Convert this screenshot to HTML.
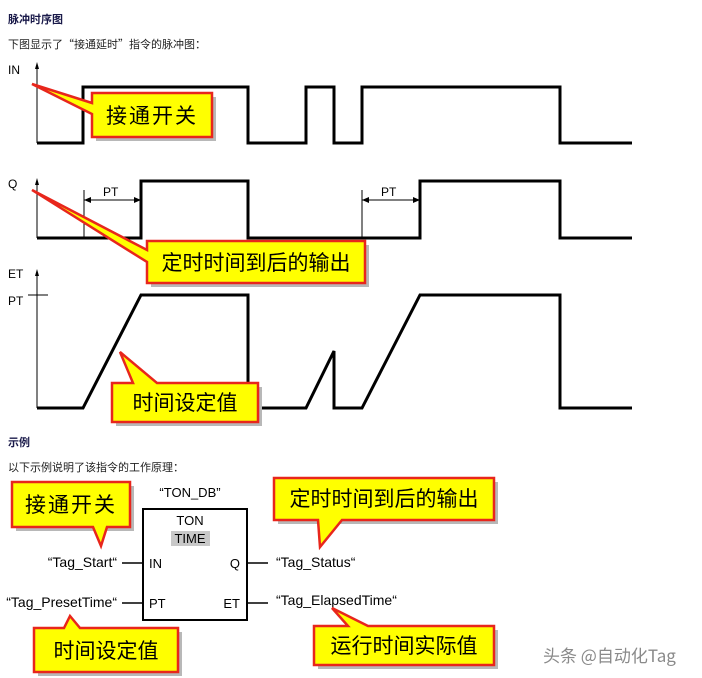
<!DOCTYPE html>
<html><head><meta charset="utf-8"><style>
html,body{margin:0;padding:0;background:#fff;}
svg{display:block;}
text{font-family:"Liberation Sans","Noto Sans CJK SC",sans-serif;}
.cn{font-family:"Noto Sans CJK SC","WenQuanYi Zen Hei",sans-serif;}
.call{fill:#ffff00;stroke:#e8261c;stroke-width:2.5;stroke-linejoin:miter;}
.sh{fill:#b8b8b8;}
.w{fill:none;stroke:#000;stroke-width:3;}
</style></head><body>
<svg width="702" height="678" viewBox="0 0 702 678" xmlns="http://www.w3.org/2000/svg">
<text x="8" y="23" class="cn" font-size="11" font-weight="bold" fill="#1a1a4a">脉冲时序图</text>
<text x="8" y="48" class="cn" font-size="11" fill="#222">下图显示了“接通延时”指令的脉冲图：</text>

<!-- IN -->
<text x="8" y="74" font-size="12">IN</text>
<line x1="37" y1="66" x2="37" y2="143" stroke="#000" stroke-width="1"/>
<polygon points="37,62 35,69 39,69" fill="#000"/>
<polyline class="w" points="37,143 83,143 83,87 248,87 248,143 306,143 306,87 334,87 334,143 362,143 362,87 560,87 560,143 632,143"/>

<!-- Q -->
<text x="8" y="188" font-size="12">Q</text>
<line x1="37" y1="182" x2="37" y2="238" stroke="#000" stroke-width="1"/>
<polygon points="37,178 35,185 39,185" fill="#000"/>
<polyline class="w" points="37,238 141,238 141,181 248,181 248,238 420,238 420,181 560,181 560,238 632,238"/>
<line x1="84" y1="190" x2="84" y2="238" stroke="#000" stroke-width="1"/>
<line x1="84" y1="200" x2="141" y2="200" stroke="#000" stroke-width="1"/>
<polygon points="84,200 91,197 91,203" fill="#000"/><polygon points="141,200 134,197 134,203" fill="#000"/>
<text x="103" y="196" font-size="12">PT</text>
<line x1="362" y1="190" x2="362" y2="238" stroke="#000" stroke-width="1"/>
<line x1="362" y1="200" x2="420" y2="200" stroke="#000" stroke-width="1"/>
<polygon points="362,200 369,197 369,203" fill="#000"/><polygon points="420,200 413,197 413,203" fill="#000"/>
<text x="381" y="196" font-size="12">PT</text>

<!-- ET -->
<text x="8" y="278" font-size="12">ET</text>
<text x="8" y="305" font-size="12">PT</text>
<line x1="37" y1="273" x2="37" y2="408" stroke="#000" stroke-width="1"/>
<polygon points="37,269 35,276 39,276" fill="#000"/>
<line x1="28" y1="295" x2="48" y2="295" stroke="#000" stroke-width="1"/>
<polyline class="w" points="37,408 83,408 141,295 248,295 248,408 306,408 334,351 334,408 362,408 420,295 560,295 560,408 632,408"/>

<!-- callouts top -->
<path class="sh" d="M96,97 H216 V141 H96 Z"/>
<path class="call" d="M92,93 H212 V137 H92 V114 L32,84 L92,103 Z"/>
<text x="152" y="123" class="cn" font-size="21" text-anchor="middle" letter-spacing="2">接通开关</text>

<path class="sh" d="M151,245 H369 V287 H151 Z"/>
<path class="call" d="M147,241 H365 V283 H147 V262 L32,190 L147,250 Z"/>
<text x="256" y="270" class="cn" font-size="21" text-anchor="middle">定时时间到后的输出</text>

<path class="sh" d="M116,387 H262 V426 H116 Z"/>
<path class="call" d="M112,383 H133 L120,352 L157,383 H258 V422 H112 Z"/>
<text x="185" y="410" class="cn" font-size="21" text-anchor="middle">时间设定值</text>

<!-- example -->
<text x="8" y="446" class="cn" font-size="11" font-weight="bold" fill="#1a1a4a">示例</text>
<text x="8" y="471" class="cn" font-size="11" fill="#222">以下示例说明了该指令的工作原理：</text>

<text x="190" y="497" font-size="13" text-anchor="middle">“TON_DB”</text>
<rect x="143" y="509" width="104" height="111" fill="none" stroke="#000" stroke-width="2"/>
<text x="190" y="525" font-size="13" text-anchor="middle">TON</text>
<rect x="171" y="531" width="39" height="15" fill="#c8c8c8"/>
<text x="190" y="543" font-size="13" text-anchor="middle">TIME</text>
<text x="149" y="568" font-size="13">IN</text>
<text x="149" y="608" font-size="13">PT</text>
<text x="240" y="568" font-size="13" text-anchor="end">Q</text>
<text x="240" y="608" font-size="13" text-anchor="end">ET</text>
<line x1="122" y1="563" x2="143" y2="563" stroke="#000" stroke-width="1.5"/>
<line x1="122" y1="603" x2="143" y2="603" stroke="#000" stroke-width="1.5"/>
<line x1="247" y1="563" x2="268" y2="563" stroke="#000" stroke-width="1.5"/>
<line x1="247" y1="603" x2="268" y2="603" stroke="#000" stroke-width="1.5"/>
<text x="117" y="567" font-size="14" text-anchor="end">“Tag_Start“</text>
<text x="117" y="607" font-size="14" text-anchor="end">“Tag_PresetTime“</text>
<text x="276" y="567" font-size="14">“Tag_Status“</text>
<text x="276" y="605" font-size="14">“Tag_ElapsedTime“</text>

<path class="sh" d="M16,486 H134 V531 H16 Z"/>
<path class="call" d="M12,482 H130 V527 H107 L101,546 L93,527 H12 Z"/>
<text x="71" y="512" class="cn" font-size="21" text-anchor="middle" letter-spacing="2">接通开关</text>

<path class="sh" d="M278,482 H498 V524 H278 Z"/>
<path class="call" d="M274,478 H494 V520 H342 L320,547 L318,520 H274 Z"/>
<text x="384" y="506" class="cn" font-size="21" text-anchor="middle">定时时间到后的输出</text>

<path class="sh" d="M38,632 H182 V676 H38 Z"/>
<path class="call" d="M34,628 H64 L70,616 L80,628 H178 V672 H34 Z"/>
<text x="106" y="658" class="cn" font-size="21" text-anchor="middle">时间设定值</text>

<path class="sh" d="M318,630 H498 V669 H318 Z"/>
<path class="call" d="M314,626 H348 L332,608 L368,626 H494 V665 H314 Z"/>
<text x="404" y="653" class="cn" font-size="21" text-anchor="middle">运行时间实际值</text>

<text x="543" y="662" class="cn" font-size="17" fill="#8a8a8a">头条 @自动化Tag</text>
</svg>
</body></html>
